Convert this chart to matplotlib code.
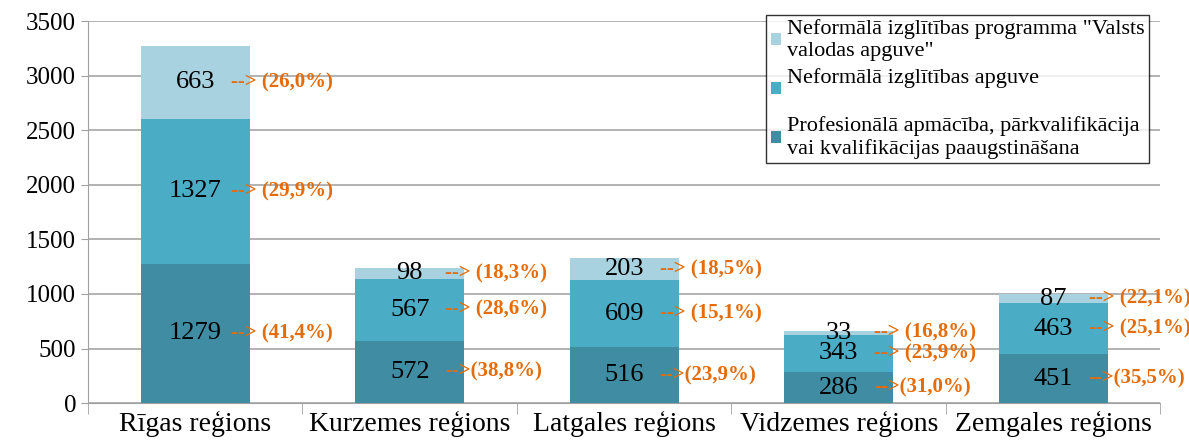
import matplotlib
matplotlib.use("Agg")
import matplotlib.pyplot as plt
import numpy as np

plt.rcParams["font.family"] = ["Liberation Serif", "DejaVu Serif"]

regions = ["Rīgas reģions", "Kurzemes reģions", "Latgales reģions",
           "Vidzemes reģions", "Zemgales reģions"]
prof = [1279, 572, 516, 286, 451]
neform = [1327, 567, 609, 343, 463]
valsts = [663, 98, 203, 33, 87]

pct_prof = ["--> (41,4%)", "-->(38,8%)", "-->(23,9%)", "-->(31,0%)", "-->(35,5%)"]
pct_neform = ["--> (29,9%)", "--> (28,6%)", "--> (15,1%)", "--> (23,9%)", "--> (25,1%)"]
pct_valsts = ["--> (26,0%)", "--> (18,3%)", "--> (18,5%)", "--> (16,8%)", "--> (22,1%)"]

lab_prof = "Profesionālā apmācība, pārkvalifikācija\nvai kvalifikācijas paaugstināšana"
lab_neform = "Neformālā izglītības apguve\n "
lab_valsts = "Neformālā izglītības programma \"Valsts\nvalodas apguve\""

c_dark = "#3F8CA3"
c_mid = "#4BACC6"
c_light = "#A9D2E0"
c_orange = "#E46C0A"

fig = plt.figure(figsize=(11.89, 4.47), dpi=100)
ax = fig.add_axes([0.074, 0.098, 0.902, 0.855])

x = np.arange(len(regions))
w = 0.51
prof_a = np.array(prof)
neform_a = np.array(neform)
valsts_a = np.array(valsts)

ax.bar(x, prof_a, w, color=c_dark, label=lab_prof, zorder=3)
ax.bar(x, neform_a, w, bottom=prof_a, color=c_mid, label=lab_neform, zorder=3)
ax.bar(x, valsts_a, w, bottom=prof_a + neform_a, color=c_light, label=lab_valsts, zorder=3)

# numbers inside segments and percentage notes to the right
for i in range(len(regions)):
    bottoms = [0, prof_a[i], prof_a[i] + neform_a[i]]
    vals = [prof_a[i], neform_a[i], valsts_a[i]]
    pcts = [pct_prof[i], pct_neform[i], pct_valsts[i]]
    for b, v, p in zip(bottoms, vals, pcts):
        mid = b + v / 2
        ax.text(x[i], mid, str(v), ha="center", va="center", fontsize=19,
                color="black", zorder=4)
        ax.text(x[i] + w / 2 - 0.09, mid, p, ha="left", va="center", fontsize=15,
                fontweight="bold", color=c_orange, zorder=4)

ax.set_ylim(0, 3500)
ax.set_xlim(-0.5, len(regions) - 0.5)
ax.set_yticks(np.arange(0, 3501, 500))
ax.set_xticks(x)
ax.set_xticklabels(regions, fontsize=20)
ax.tick_params(axis="y", labelsize=18, length=5, color="#A0A0A0")
ax.tick_params(axis="x", length=0, pad=6)
ax.set_xticks(np.arange(-0.5, len(regions), 1), minor=True)
ax.tick_params(axis="x", which="minor", length=8, color="#A0A0A0")

ax.yaxis.grid(True, color="#A6A6A6", linewidth=1.2, zorder=0)
for s in ["top", "right"]:
    ax.spines[s].set_visible(False)
ax.spines["left"].set_color("#A0A0A0")
ax.spines["bottom"].set_color("#A0A0A0")

h, l = ax.get_legend_handles_labels()
leg = ax.legend(h[::-1], l[::-1], loc="upper right", fontsize=16,
                frameon=True, fancybox=False, edgecolor="black",
                handlelength=0.45, handleheight=0.45, handletextpad=0.3,
                borderpad=0.2, labelspacing=0.3, bbox_to_anchor=(1.0, 1.045))
leg.get_frame().set_linewidth(1.0)

fig.savefig("out.png", dpi=100)
